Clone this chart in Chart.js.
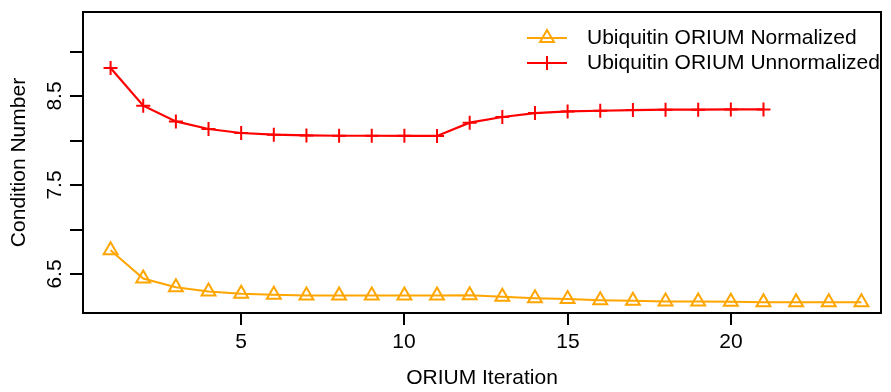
<!DOCTYPE html>
<html>
<head>
<meta charset="utf-8">
<script src="https://cdn.jsdelivr.net/npm/chart.js@4/dist/chart.umd.min.js"></script>
<style>
  html, body { margin: 0; padding: 0; background: #fff; }
  #wrap { width: 891px; height: 392px; }
</style>
</head>
<body>
<div id="wrap"><canvas id="chart" width="891" height="392"></canvas></div>
<script>
// ── Data ───────────────────────────────────────────────────
const iterNormalized   = [1,2,3,4,5,6,7,8,9,10,11,12,13,14,15,16,17,18,19,20,21,22,23,24];
const condNormalized   = [6.772,6.454,6.356,6.308,6.282,6.271,6.264,6.263,6.263,6.262,6.262,6.265,
                          6.249,6.233,6.222,6.210,6.204,6.196,6.196,6.192,6.188,6.188,6.187,6.186];
const iterUnnormalized = [1,2,3,4,5,6,7,8,9,10,11,12,13,14,15,16,17,18,19,20,21];
const condUnnormalized = [8.819,8.396,8.219,8.134,8.089,8.070,8.062,8.058,8.058,8.057,8.056,8.205,
                          8.269,8.313,8.331,8.339,8.347,8.351,8.351,8.354,8.354];
const xTicks = [5, 10, 15, 20];
const yTicks = [6.5, 7.0, 7.5, 8.0, 8.5, 9.0];
const yTickLabels = ['6.5', '', '7.5', '', '8.5', ''];
const seriesNames = ['Ubiquitin ORIUM Normalized', 'Ubiquitin ORIUM Unnormalized'];

const FONT = '"Liberation Sans", Arial, Helvetica, sans-serif';
const ORANGE = '#FFA500';
const RED = '#FF0000';

const toPoints = (xs, ys) => xs.map((x, i) => ({ x, y: ys[i] }));

// ── R-style axes, box and legend ──────────────────────────
const rFrame = {
  id: 'rFrame',
  afterDraw(chart) {
    const { ctx, chartArea: a, scales: { x, y } } = chart;
    ctx.save();
    ctx.strokeStyle = '#000';
    ctx.fillStyle = '#000';
    ctx.lineWidth = 2;
    ctx.strokeRect(a.left, a.top, a.right - a.left, a.bottom - a.top);

    ctx.font = '21px ' + FONT;
    // x ticks
    ctx.textAlign = 'center';
    ctx.textBaseline = 'middle';
    xTicks.forEach(v => {
      const px = Math.round(x.getPixelForValue(v));
      ctx.beginPath();
      ctx.moveTo(px, a.bottom);
      ctx.lineTo(px, a.bottom + 12);
      ctx.stroke();
      ctx.fillText(String(v), px, a.bottom + 29);
    });
    ctx.fillText('ORIUM Iteration', (a.left + a.right) / 2, 378);

    // y ticks (labels rotated like R's default las=0)
    yTicks.forEach((v, i) => {
      const py = Math.round(y.getPixelForValue(v));
      ctx.beginPath();
      ctx.moveTo(a.left, py);
      ctx.lineTo(a.left - 13, py);
      ctx.stroke();
      if (yTickLabels[i]) {
        ctx.save();
        ctx.translate(55, py);
        ctx.rotate(-Math.PI / 2);
        ctx.fillText(yTickLabels[i], 0, 0);
        ctx.restore();
      }
    });
    ctx.save();
    ctx.translate(19, (a.top + a.bottom) / 2);
    ctx.rotate(-Math.PI / 2);
    ctx.fillText('Condition Number', 0, 0);
    ctx.restore();

    // legend
    ctx.textAlign = 'left';
    const rows = [
      { y: 38, color: ORANGE, style: 'triangle', name: seriesNames[0] },
      { y: 63, color: RED, style: 'cross', name: seriesNames[1] },
    ];
    rows.forEach(r => {
      ctx.strokeStyle = r.color;
      ctx.fillStyle = 'rgba(0,0,0,0)';
      ctx.lineWidth = 2;
      ctx.beginPath();
      ctx.moveTo(527, r.y);
      ctx.lineTo(567, r.y);
      ctx.stroke();
      Chart.helpers.drawPoint(ctx, {
        pointStyle: r.style, radius: r.style === 'triangle' ? 8 : 7, rotation: 0, borderWidth: 2,
      }, 547, r.y);
      ctx.fillStyle = '#000';
      ctx.fillText(r.name, 587, r.y);
    });
    ctx.restore();
  },
};

new Chart(document.getElementById('chart'), {
  type: 'line',
  data: {
    datasets: [
      {
        label: seriesNames[0],
        data: toPoints(iterNormalized, condNormalized),
        borderColor: ORANGE,
        backgroundColor: 'rgba(0,0,0,0)',
        borderWidth: 2,
        pointStyle: 'triangle',
        pointRadius: 8,
        pointBorderWidth: 2,
        pointBorderColor: ORANGE,
        pointBackgroundColor: 'rgba(0,0,0,0)',
        tension: 0,
      },
      {
        label: seriesNames[1],
        data: toPoints(iterUnnormalized, condUnnormalized),
        borderColor: RED,
        backgroundColor: RED,
        borderWidth: 2.2,
        pointStyle: 'cross',
        pointRadius: 7,
        pointBorderWidth: 2,
        pointBorderColor: RED,
        tension: 0,
      },
    ],
  },
  options: {
    responsive: false,
    animation: false,
    events: [],
    layout: { padding: { top: 12, right: 6, left: 0, bottom: 0 } },
    scales: {
      x: {
        type: 'linear',
        min: 0.155,
        max: 24.6,
        grid: { display: false, drawTicks: false },
        border: { display: false },
        ticks: { display: false },
        afterFit: s => { s.height = 79; },
      },
      y: {
        min: 6.066,
        max: 9.449,
        grid: { display: false, drawTicks: false },
        border: { display: false },
        ticks: { display: false },
        afterFit: s => { s.width = 83; },
      },
    },
    plugins: {
      legend: { display: false },
      tooltip: { enabled: false },
    },
  },
  plugins: [rFrame],
});
</script>
</body>
</html>
